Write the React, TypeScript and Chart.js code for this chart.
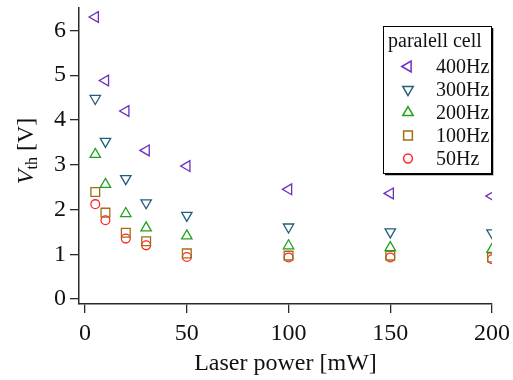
import React, { useEffect, useRef } from 'react';
import { Chart, registerables } from 'chart.js';
import { drawPoint } from 'chart.js/helpers';

Chart.register(...registerables);

const powers = [5, 10, 20, 30, 50, 100, 150, 200];
const v400 = [6.30, 4.88, 4.20, 3.32, 2.97, 2.45, 2.36, 2.30];
const v300 = [4.48, 3.52, 2.69, 2.15, 1.87, 1.61, 1.50, 1.48];
const v200 = [3.23, 2.56, 1.91, 1.59, 1.41, 1.19, 1.15, 1.11];
const v100 = [2.39, 1.93, 1.48, 1.29, 1.02, 0.97, 0.97, 0.93];
const v50 = [2.12, 1.76, 1.35, 1.20, 0.94, 0.93, 0.93, 0.89];
const seriesLabels = ['400Hz', '300Hz', '200Hz', '100Hz', '50Hz'];
const legendTitle = 'paralell cell';
const xTicks = [0, 50, 100, 150, 200];
const yTicks = [0, 1, 2, 3, 4, 5, 6];
const xTitle = 'Laser power [mW]';

const SERIF = '"Liberation Serif", "DejaVu Serif", serif';
const AXIS = '#2a2a2a';

const styles = [
  { color: '#6a2fc0', pointStyle: 'triangle', rotation: -90, radius: 6.2 },
  { color: '#215d7c', pointStyle: 'triangle', rotation: 180, radius: 6.0 },
  { color: '#1ea31e', pointStyle: 'triangle', rotation: 0, radius: 6.0 },
  { color: '#a46c14', pointStyle: 'rect', rotation: 0, radius: 6.2 },
  { color: '#ff2626', pointStyle: 'circle', rotation: 0, radius: 4.4 },
];

const seriesValues = [v400, v300, v200, v100, v50];

const overlayPlugin = {
  id: 'overlay',
  afterDraw(chart: any) {
    const ctx = chart.ctx as CanvasRenderingContext2D;
    ctx.save();
    // legend box
    ctx.strokeStyle = '#000';
    ctx.lineWidth = 1;
    ctx.strokeRect(383.5, 26.5, 108, 147);
    ctx.lineWidth = 1.5;
    ctx.beginPath();
    ctx.moveTo(492.5, 28);
    ctx.lineTo(492.5, 174.5);
    ctx.lineTo(385, 174.5);
    ctx.stroke();
    ctx.fillStyle = '#111';
    ctx.font = `20px ${SERIF}`;
    ctx.textBaseline = 'middle';
    ctx.textAlign = 'left';
    ctx.fillText(legendTitle, 388, 42);
    seriesLabels.forEach((lab, i) => {
      const y = 66.5 + i * 23;
      const s = styles[i];
      ctx.strokeStyle = s.color;
      ctx.fillStyle = 'rgba(0,0,0,0)';
      drawPoint(ctx, { pointStyle: s.pointStyle, rotation: s.rotation, radius: s.radius, borderWidth: 1.3 } as any, 408, y);
      ctx.fillStyle = '#111';
      ctx.fillText(lab, 436, y + 1);
    });
    // y title: V_th [V]
    ctx.translate(25, 151);
    ctx.rotate(-Math.PI / 2);
    const f1 = `italic 24px ${SERIF}`;
    const f2 = `16px ${SERIF}`;
    const f3 = `24px ${SERIF}`;
    ctx.font = f1; const wV = ctx.measureText('V').width;
    ctx.font = f2; const wth = ctx.measureText('th').width;
    ctx.font = f3; const wU = ctx.measureText(' [V]').width;
    const total = wV + wth + wU;
    let x = -total / 2;
    ctx.textAlign = 'left';
    ctx.textBaseline = 'alphabetic';
    ctx.fillStyle = '#111';
    ctx.font = f1; ctx.fillText('V', x, 8); x += wV;
    ctx.font = f2; ctx.fillText('th', x, 12); x += wth;
    ctx.font = f3; ctx.fillText(' [V]', x, 8);
    ctx.restore();
  },
};

export default function App() {
  const ref = useRef<HTMLCanvasElement | null>(null);
  useEffect(() => {
    if (!ref.current) return;
    const chart = new Chart(ref.current, {
      type: 'scatter',
      data: {
        datasets: seriesValues.map((vals, i) => ({
          label: seriesLabels[i],
          data: vals.map((v, j) => ({ x: powers[j], y: v })),
          pointStyle: styles[i].pointStyle as any,
          rotation: styles[i].rotation,
          radius: styles[i].radius,
          borderColor: styles[i].color,
          backgroundColor: 'rgba(0,0,0,0)',
          borderWidth: 1.3,
          showLine: false,
        })),
      },
      options: {
        animation: false,
        responsive: false,
        devicePixelRatio: 1,
        layout: { padding: { left: 0, top: 8, right: 21, bottom: 0 } },
        plugins: { legend: { display: false }, tooltip: { enabled: false } },
        scales: {
          x: {
            type: 'linear',
            min: -3,
            max: 200,
            afterFit(scale: any) { scale.height = 76; scale.paddingLeft = 0; scale.paddingRight = 0; },
            afterBuildTicks(scale: any) { scale.ticks = xTicks.map((v) => ({ value: v })); },
            grid: { display: true, drawOnChartArea: false, drawTicks: true, tickLength: 9, color: AXIS, lineWidth: 1.3 },
            border: { display: true, color: AXIS, width: 1.5 },
            ticks: { font: { family: SERIF, size: 24 }, color: '#111', padding: 6, maxRotation: 0 },
            title: { display: true, text: xTitle, font: { family: SERIF, size: 24 }, color: '#111', padding: { top: 0, bottom: 2 } },
          },
          y: {
            type: 'linear',
            min: -0.11,
            max: 6.5,
            afterFit(scale: any) { scale.width = 79; scale.paddingTop = 0; scale.paddingBottom = 0; },
            afterBuildTicks(scale: any) { scale.ticks = yTicks.map((v) => ({ value: v })); },
            grid: { display: true, drawOnChartArea: false, drawTicks: true, tickLength: 9, color: AXIS, lineWidth: 1.3 },
            border: { display: true, color: AXIS, width: 1.5 },
            ticks: { font: { family: SERIF, size: 24 }, color: '#111', padding: 4 },
          },
        },
      },
      plugins: [overlayPlugin],
    });
    return () => chart.destroy();
  }, []);
  return (
    <div style={{ position: 'fixed', left: 0, top: 0, width: 513, height: 380, background: '#fff' }}>
      <canvas ref={ref} width={513} height={380} style={{ width: 513, height: 380, display: 'block' }} />
    </div>
  );
}
